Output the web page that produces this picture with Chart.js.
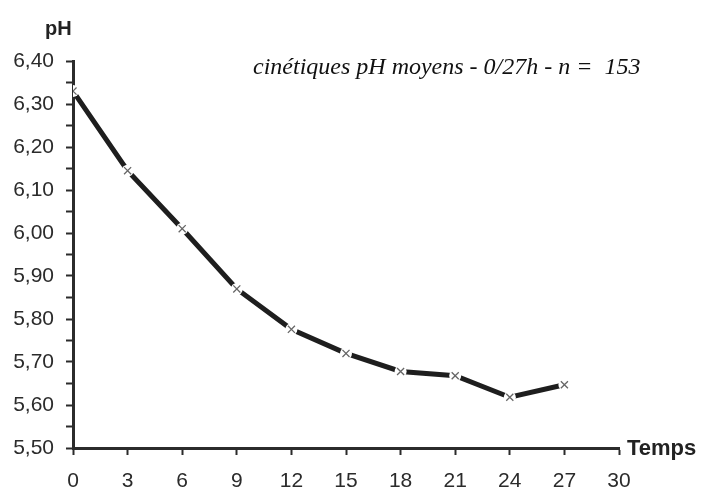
<!DOCTYPE html>
<html>
<head>
<meta charset="utf-8">
<script src="https://cdn.jsdelivr.net/npm/chart.js@4.4.1/dist/chart.umd.min.js"></script>
<style>
  html, body { margin: 0; padding: 0; background: #fff; }
  #wrap { width: 701px; height: 489px; position: relative; }
</style>
</head>
<body>
<div id="wrap"><canvas id="phChart"></canvas></div>
<script>
/* ── data ── */
const hours   = [0, 3, 6, 9, 12, 15, 18, 21, 24, 27];
const phMeans = [6.33, 6.145, 6.01, 5.87, 5.776, 5.72, 5.678, 5.668, 5.618, 5.647];
const xTicks  = [0, 3, 6, 9, 12, 15, 18, 21, 24, 27, 30];
const yLabels = ["5,50", "5,60", "5,70", "5,80", "5,90", "6,00", "6,10", "6,20", "6,30", "6,40"];

const TITLE  = "cinétiques pH moyens - 0/27h - n =  153";
const INK    = "#2b2b2b";
const FONT   = "'Liberation Sans', Arial, sans-serif";

const points = hours.map((h, i) => ({ x: h, y: phMeans[i] }));

/* ── axis names + italic caption ── */
const labelsPlugin = {
  id: "labelsPlugin",
  afterDraw(chart) {
    const ctx = chart.ctx;
    ctx.save();
    ctx.fillStyle = "#222";
    ctx.textBaseline = "middle";
    ctx.textAlign = "left";
    ctx.font = "bold 20px " + FONT;
    ctx.fillText("pH", 45, 29);
    ctx.font = "bold 22px " + FONT;
    ctx.fillText("Temps", 627, 449);
    ctx.font = "italic 24px 'Liberation Serif', 'Times New Roman', serif";
    ctx.fillStyle = "#111";
    ctx.fillText(TITLE, 253, 68);
    ctx.restore();
  }
};

new Chart(document.getElementById("phChart").getContext("2d"), {
  type: "line",
  data: {
    datasets: [
      { data: points, showLine: false, pointStyle: "crossRot", pointRadius: 5,
        pointBorderColor: "#666", pointBorderWidth: 1.3, pointHoverRadius: 5 },
      { data: points, showLine: false, pointStyle: "circle", pointRadius: 6,
        pointBackgroundColor: "#fff", pointBorderColor: "#fff", pointBorderWidth: 0, pointHoverRadius: 6 },
      { data: points, borderColor: "#1e1e1e", borderWidth: 5, tension: 0,
        pointRadius: 0, pointHoverRadius: 0, fill: false },
    ]
  },
  options: {
    responsive: true, maintainAspectRatio: false, animation: false,
    layout: { padding: { left: 0, top: 61, right: 82, bottom: 0 } },
    plugins: { legend: { display: false }, tooltip: { enabled: false } },
    scales: {
      x: {
        type: "linear", min: 0, max: 30,
        afterBuildTicks: s => { s.ticks = xTicks.map(v => ({ value: v })); },
        afterFit: s => { s.height = 41; },
        ticks: { color: INK, font: { family: FONT, size: 21 }, padding: 14, maxRotation: 0,
          callback: v => String(v) },
        grid: { drawOnChartArea: false, drawTicks: true, tickLength: 7, tickColor: INK, tickWidth: 2 },
        border: { display: true, color: INK, width: 3 },
      },
      y: {
        min: 5.5, max: 6.4,
        afterBuildTicks: s => {
          const t = [];
          for (let i = 0; i <= 18; i++) t.push({ value: 5.5 + i * 0.05 });
          s.ticks = t;
        },
        afterFit: s => { s.width = 73; },
        ticks: { color: INK, font: { family: FONT, size: 21 }, padding: 12, autoSkip: false,
          callback: (v, i) => (i % 2 === 0 ? yLabels[i / 2] : "") },
        grid: { drawOnChartArea: false, drawTicks: true, tickLength: 7, tickColor: INK, tickWidth: 2 },
        border: { display: true, color: INK, width: 3 },
      }
    }
  },
  plugins: [labelsPlugin]
});
</script>
</body>
</html>
